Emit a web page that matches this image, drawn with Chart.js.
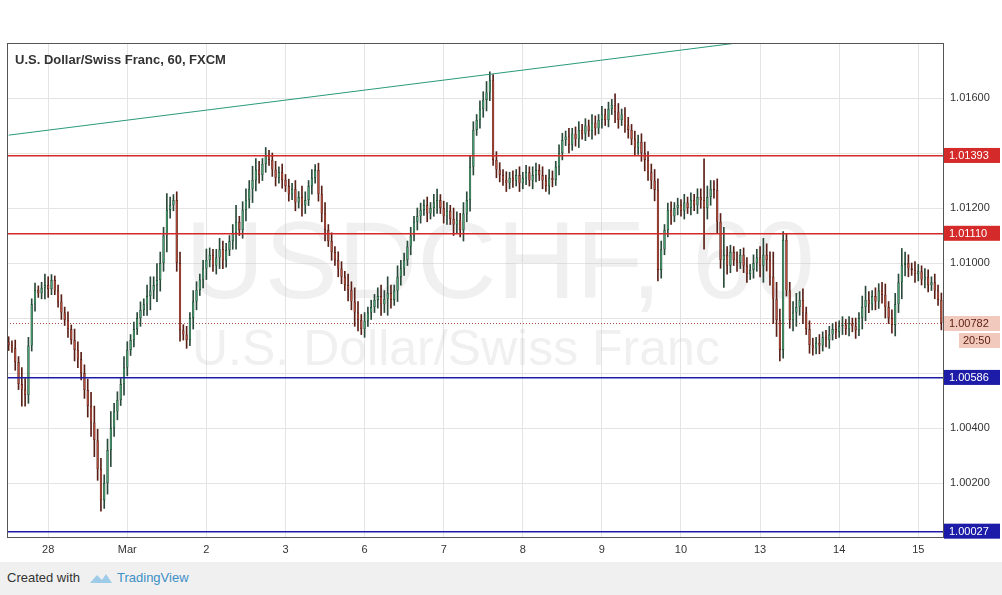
<!DOCTYPE html>
<html><head><meta charset="utf-8">
<script src="https://cdn.jsdelivr.net/npm/chart.js@4.4.1/dist/chart.umd.min.js"></script>
<style>
body{margin:0;background:#fff;width:1002px;height:595px;overflow:hidden;font-family:Arial,"Liberation Sans",sans-serif}
#wrap{position:absolute;left:0;top:0;width:1002px;height:562px}
#foot{position:absolute;left:0;top:562px;width:1002px;height:33px;background:#f0f0f0;font-size:13px;color:#333}
#foot span{position:absolute;top:8px}
</style></head><body>
<div id="wrap"><canvas id="c" width="1002" height="562"></canvas></div>
<div id="foot"><span style="left:7px">Created with</span><span style="left:117px;color:#3d8fc7">TradingView</span>
<svg style="position:absolute;left:88px;top:9px" width="26" height="14"><path d="M2 12 L9 4 L14 9 L18 3 L24 12 Z" fill="#9ecbe8"/></svg></div>
<script>
// closes in pips above 1.00000 (hourly)
const closes=[702,690,640,560,540,520,700,850,902,890,910,920,905,938,900,860,820,793,760,720,684,650,600,538,480,420,356,250,138,200,320,400,460,502,560,620,684,720,760,800,829,850,880,900,920,938,1000,1100,1193,1210,1229,1000,756,740,720,800,860,902,940,980,1011,1030,990,1020,1050,1010,1047,1080,1110,1150,1120,1193,1230,1270,1302,1340,1320,1360,1390,1375,1340,1310,1330,1302,1280,1250,1270,1220,1240,1210,1229,1280,1310,1338,1250,1180,1120,1080,1040,1011,980,950,920,902,860,820,793,760,790,820,840,866,880,850,870,890,866,900,950,980,1011,1060,1100,1150,1170,1193,1210,1180,1200,1220,1229,1200,1170,1190,1160,1140,1156,1120,1180,1229,1350,1484,1520,1560,1593,1620,1665,1375,1340,1320,1302,1290,1310,1300,1320,1290,1310,1330,1300,1320,1338,1320,1300,1280,1310,1302,1350,1400,1447,1460,1430,1470,1450,1484,1470,1500,1480,1510,1490,1520,1540,1520,1560,1575,1550,1520,1540,1500,1484,1450,1420,1440,1400,1375,1330,1300,1266,975,1050,1120,1193,1170,1200,1211,1190,1220,1200,1230,1210,1240,1229,1200,1240,1270,1266,1150,1011,1030,990,1040,1011,1000,1030,990,960,975,1000,1020,990,1030,1011,950,870,793,684,1084,900,793,820,840,866,820,760,702,690,710,700,730,720,740,760,750,770,775,760,780,770,756,800,840,866,850,880,860,900,884,840,800,775,850,930,993,1000,980,975,960,970,940,950,920,930,900,866,782];
const wicks=[20,15,30,20,60,40,30,20,25,15,20,40,30,20,15,20,25,20,30,15,40,30,25,30,40,50,60,40,40,30,40,60,30,30,20,40,30,20,25,20,30,20,40,50,30,60,40,30,60,30,20,30,40,20,30,20,40,30,20,30,40,25,20,30,40,30,25,20,30,60,20,30,40,30,50,40,30,20,30,20,25,30,20,30,20,25,20,30,20,40,30,20,30,20,25,30,40,20,30,20,30,25,20,40,30,50,40,20,30,20,25,20,30,40,30,60,30,20,40,30,25,20,30,20,30,25,20,30,20,30,40,20,25,30,20,40,30,25,40,30,40,30,20,30,30,40,30,20,30,25,20,30,20,25,20,30,20,25,20,30,25,20,30,20,30,25,20,30,25,20,30,20,25,30,20,25,20,30,25,20,30,20,25,20,40,30,20,25,30,20,30,25,30,40,30,30,40,40,30,20,25,30,20,25,20,30,20,25,20,30,30,150,40,30,30,40,30,100,30,25,20,30,20,25,30,20,30,30,40,60,40,30,90,60,40,30,20,30,40,50,30,40,20,30,25,20,30,20,25,30,20,25,20,30,20,25,20,30,20,40,50,30,20,30,25,30,40,20,30,40,30,60,40,30,20,30,25,20,30,25,20,30,20,25];
const dayLabels=['28','Mar','2','3','6','7','8','9','10','13','14','15'];
const firstDayIndex=12, hoursPerDay=24;
const gridTicks=[1.002,1.004,1.006,1.008,1.010,1.012,1.014,1.016];
const shownTicks=[1.002,1.004,1.010,1.012,1.016];
const levels=[{v:1.01393,c:'#d42a2a',t:'1.01393'},{v:1.01110,c:'#d42a2a',t:'1.01110'},{v:1.00586,c:'#1c1ca8',t:'1.00586'},{v:1.00027,c:'#1c1ca8',t:'1.00027'}];
const lastPrice=1.00782;
const trendStart={i:0,v:1.01465}, trendEnd={i:221,v:1.0180};

const P=p=>1+p/100000;
const opens=closes.map((c,i)=>i?closes[i-1]:closes[0]+10);
const labels=closes.map((_,i)=>{const k=(i-firstDayIndex)/hoursPerDay;return Number.isInteger(k)&&k>=0&&k<dayLabels.length?dayLabels[k]:'';});
const bodies=closes.map((c,i)=>{let o=opens[i];if(o===c)o=c+2;return [P(o),P(c)];});
const wickData=closes.map((c,i)=>[P(Math.min(opens[i],c)-wicks[i]),P(Math.max(opens[i],c)+wicks[i])]);
const up=closes.map((c,i)=>c>=opens[i]);
const trend=closes.map(()=>null);trend[trendStart.i]=trendStart.v;trend[trendEnd.i]=trendEnd.v;

const overlay={id:'ov',
 beforeDatasetsDraw(ch){const{ctx,chartArea:a,scales:{y}}=ch;ctx.save();
  ctx.fillStyle='rgba(200,200,205,0.28)';ctx.font='110px Arial';ctx.textBaseline='alphabetic';
  ctx.fillText('USDCHF, 60',185,298);ctx.font='50px Arial';ctx.fillText('U.S. Dollar/Swiss Franc',192,365);
  const ly=y.getPixelForValue(lastPrice);ctx.strokeStyle='#b0503a';ctx.lineWidth=1;ctx.setLineDash([1,2]);ctx.beginPath();ctx.moveTo(a.left,Math.round(ly)+0.5);ctx.lineTo(a.right,Math.round(ly)+0.5);ctx.stroke();ctx.setLineDash([]);
  ctx.restore();},
 afterDatasetsDraw(ch){const{ctx,chartArea:a,scales:{y}}=ch;ctx.save();
  levels.forEach(l=>{const yy=Math.round(y.getPixelForValue(l.v));ctx.fillStyle=l.c;ctx.fillRect(a.left,yy,a.right-a.left,1.5);});
  ctx.restore();},
 afterDraw(ch){const{ctx,chartArea:a,scales:{y}}=ch;ctx.save();
  ctx.strokeStyle='#555';ctx.lineWidth=1;ctx.strokeRect(a.left+0.5,a.top+0.5,a.right-a.left,a.bottom-a.top);
  ctx.font='bold 13px Arial';ctx.fillStyle='#333';ctx.textBaseline='middle';ctx.fillText('U.S. Dollar/Swiss Franc, 60, FXCM',15,60);
  ctx.font='11px Arial';
  levels.forEach(l=>{const yy=y.getPixelForValue(l.v);ctx.fillStyle=l.c;ctx.fillRect(a.right+1,yy-7,56,15);ctx.fillStyle='#fff';ctx.fillText(l.t,a.right+6,yy+1);});
  const ly=y.getPixelForValue(lastPrice);ctx.fillStyle='#f2c9bd';ctx.fillRect(a.right+1,ly-7,56,15);ctx.fillStyle='#5a1e10';ctx.fillText('1.00782',a.right+6,ly+1);
  ctx.fillStyle='#f2c9bd';ctx.fillRect(a.right+16,ly+10,41,15);ctx.fillStyle='#5a1e10';ctx.fillText('20:50',a.right+20,ly+18);
  ctx.restore();}};

new Chart(document.getElementById('c'),{
 data:{labels,datasets:[
  {type:'line',data:trend,borderColor:'#2a9a7a',borderWidth:1,pointRadius:0,spanGaps:true,order:0},
  {type:'bar',data:wickData,backgroundColor:closes.map((c,i)=>up[i]?'#2a4a3a':'#5a2018'),barThickness:1,grouped:false,order:2},
  {type:'bar',data:bodies,backgroundColor:up.map(u=>u?'#44a070':'#b84a3a'),borderColor:up.map(u=>u?'#1d3d2a':'#4a1a12'),borderWidth:0.6,borderSkipped:false,barPercentage:0.72,categoryPercentage:1,grouped:false,order:1}
 ]},
 options:{responsive:false,animation:false,events:[],
  layout:{padding:{left:7,top:43,right:0,bottom:0}},
  plugins:{legend:{display:false},tooltip:{enabled:false}},
  scales:{
   x:{type:'category',offset:true,grid:{drawTicks:false,offset:false,color:c=>labels[c.index]?'#e4e4e4':'transparent'},
      ticks:{autoSkip:false,maxRotation:0,color:'#333',font:{size:11,family:'Arial'},padding:6,callback:(v,i)=>labels[i]},border:{display:false},
      afterFit(s){s.height=25;}},
   y:{position:'right',min:1.00004,max:1.0180,grid:{color:'#e4e4e4',drawTicks:false},border:{display:false},
      afterBuildTicks(s){s.ticks=gridTicks.map(v=>({value:v}));},
      ticks:{color:'#333',font:{size:11,family:'Arial'},padding:7,callback:v=>shownTicks.some(t=>Math.abs(t-v)<1e-7)?v.toFixed(5):''},
      afterFit(s){s.width=59;}}
  }},
 plugins:[overlay]});
</script></body></html>
